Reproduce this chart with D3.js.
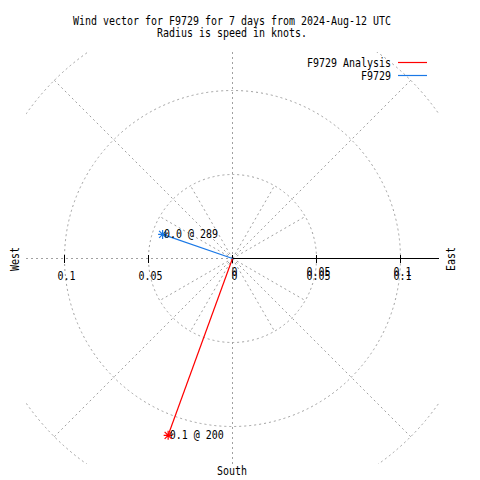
<!DOCTYPE html>
<html><head><meta charset="utf-8">
<script src="https://cdn.jsdelivr.net/npm/d3@7"></script>
<style>body{margin:0;background:#fff} svg{display:block}</style>
</head><body><svg id="c" width="480" height="480"></svg>
<script>
// ---- data ----
const titleLines = ["Wind vector for F9729 for 7 days from 2024-Aug-12 UTC", "Radius is speed in knots."];
const seriesNames = ["F9729 Analysis", "F9729"];
const seriesColors = ["#ff0000", "#1a78e6"];
const speeds = [0.112, 0.044];        // knots
const directions = [200, 289];        // degrees, clockwise from north
const circleValues = [0.05, 0.1, 0.15];
const xTickValues = [-0.1, -0.05, 0, 0.05, 0.1];
const rTickValues = [0, 0.05, 0.1];
const diagonalAngles = [45, 135, 225, 315];
const innerSpokeAngles = [30, 60, 120, 150, 210, 240, 300, 330];
const compassNames = ["West", "East", "South"];

// ---- layout ----
const svg = d3.select("#c");
const cx = 232.5, cy = 258.5;
const clip = {x0: 26, x1: 439, y0: 52, y1: 464};
const r = d3.scaleLinear().domain([0, 0.1]).range([0, 168]);
const x = d3.scaleLinear().domain([-0.1, 0.1]).range([cx - 168, cx + 168]);
const ang = d3.scaleLinear().domain([0, 360]).range([0, 2 * Math.PI]);
const FONT = "'DejaVu Sans Mono', monospace";
const GRID = "#a0a0a0";

function txt(s, px, py, anchor, rot) {
  const t = svg.append("text").text(s)
    .attr("x", px).attr("y", py)
    .attr("font-family", FONT).attr("font-size", 12)
    .attr("fill", "#000").attr("text-anchor", anchor)
    .attr("textLength", s.length * 6).attr("lengthAdjust", "spacingAndGlyphs");
  if (rot) t.attr("transform", `rotate(${rot},${px},${py})`);
  return t;
}
function pt(val, deg) {
  const a = ang(deg);
  return [cx + r(val) * Math.sin(a), cy - r(val) * Math.cos(a)];
}

svg.append("defs").append("clipPath").attr("id", "pc")
  .append("rect").attr("x", clip.x0).attr("y", clip.y0)
  .attr("width", clip.x1 - clip.x0).attr("height", clip.y1 - clip.y0);

const grid = svg.append("g").attr("clip-path", "url(#pc)")
  .attr("fill", "none").attr("stroke", GRID).attr("stroke-width", 1)
  .attr("stroke-dasharray", "2,3");

// circles
grid.selectAll("circle").data(circleValues).join("circle")
  .attr("cx", cx).attr("cy", cy).attr("r", d => r(d));
// diagonal spokes to outer circle
grid.selectAll("line.diag").data(diagonalAngles).join("line").attr("class", "diag")
  .attr("x1", cx).attr("y1", cy)
  .attr("x2", d => pt(0.15, d)[0]).attr("y2", d => pt(0.15, d)[1]);
// inner spokes
grid.selectAll("line.inner").data(innerSpokeAngles).join("line").attr("class", "inner")
  .attr("x1", cx).attr("y1", cy)
  .attr("x2", d => pt(0.05, d)[0]).attr("y2", d => pt(0.05, d)[1]);
// west and vertical axes (dashed)
grid.append("line").attr("x1", clip.x0).attr("y1", cy).attr("x2", cx).attr("y2", cy)
  .attr("shape-rendering", "crispEdges");
grid.append("line").attr("x1", cx).attr("y1", clip.y0).attr("x2", cx).attr("y2", clip.y1)
  .attr("shape-rendering", "crispEdges");

// east solid radial axis
svg.append("line").attr("x1", cx).attr("y1", cy).attr("x2", 438.5).attr("y2", cy)
  .attr("stroke", "#000").attr("stroke-width", 1.2).attr("shape-rendering", "crispEdges");

// tick marks
svg.selectAll("line.tick").data(xTickValues).join("line").attr("class", "tick")
  .attr("x1", d => Math.round(x(d)) - 0.5).attr("x2", d => Math.round(x(d)) - 0.5)
  .attr("y1", cy - 4).attr("y2", cy + 4)
  .attr("stroke", "#000").attr("stroke-width", 1).attr("shape-rendering", "crispEdges");

// tick labels (x axis and r axis overlapping like the original)
const fmt = d3.format("~g");
xTickValues.forEach(v => txt(fmt(Math.abs(v)), x(v) + 2, 279.5, "middle"));
rTickValues.forEach(v => txt(fmt(v), cx + r(v) + 2, 276, "middle"));

// data vectors
speeds.forEach((s, i) => {
  const [px, py] = pt(s, directions[i]);
  svg.append("line").attr("x1", cx).attr("y1", cy).attr("x2", px).attr("y2", py)
    .attr("stroke", seriesColors[i]).attr("stroke-width", 1.2);
  svg.append("path").attr("transform", `translate(${px},${py})`)
    .attr("d", "M-4.5,0H4.5M0,-4.5V4.5M-3.5,-3.5L3.5,3.5M-3.5,3.5L3.5,-3.5")
    .attr("stroke", seriesColors[i]).attr("stroke-width", 1.2).attr("fill", "none");
  txt(`${d3.format(".1f")(s)} @ ${directions[i]}`, px + 1.5, py + 3.5, "start");
});

// titles
txt(titleLines[0], 232, 25, "middle");
txt(titleLines[1], 232, 37, "middle");

// compass labels
txt(compassNames[0], 18.5, 259, "middle", -90);
txt(compassNames[1], 455, 259, "middle", -90);
txt(compassNames[2], 232, 475, "middle");

// legend
seriesNames.forEach((n, i) => {
  const by = 67 + i * 13;
  txt(n, 391, by, "end");
  svg.append("line").attr("x1", 398).attr("x2", 427)
    .attr("y1", by - 4.5).attr("y2", by - 4.5)
    .attr("stroke", seriesColors[i]).attr("stroke-width", 1.2);
});
</script></body></html>
